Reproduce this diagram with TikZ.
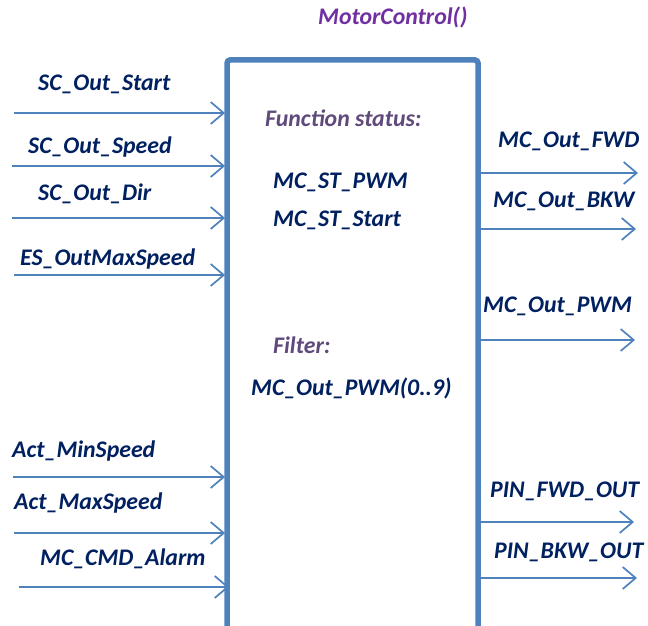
\documentclass[tikz,border=0pt]{standalone}
\usepackage{fontspec}
\setmainfont{Carlito}
\usetikzlibrary{arrows.meta}
\definecolor{boxblue}{HTML}{4F81BD}
\definecolor{navy}{HTML}{002060}
\definecolor{titlepurple}{HTML}{7030A0}
\definecolor{greypurple}{HTML}{604A7B}
\tikzset{
  lbl/.style={anchor=base west, inner sep=0pt, text=navy, font=\fontsize{23.8}{28}\selectfont\bfseries\itshape},
  hdr/.style={lbl, text=greypurple},
  sig/.style={draw=boxblue, line width=1.7pt, -{Straight Barb[length=13pt,width=22pt,line width=1.7pt]}},
  blk/.style={draw=boxblue, line width=5.5pt, rounded corners=3pt}
}
\begin{document}
\begin{tikzpicture}[x=1pt,y=-1pt]
\useasboundingbox (0,0) rectangle (648,626);
% block
\coordinate (bl) at (227,640);
\coordinate (tl) at (227,60);
\coordinate (tr) at (478,60);
\coordinate (br) at (478,640);
\draw[blk] (bl) -- (tl) -- (tr) -- (br);
% title and inner texts
\node[lbl, text=titlepurple] (title) at (318,25) {MotorControl()};
\node[hdr] (fs) at (265,126) {Function status:};
\node[lbl] (st1) at (273,188) {MC\_ST\_PWM};
\node[lbl] (st2) at (273,226) {MC\_ST\_Start};
\node[hdr] (flt) at (273,353) {Filter:};
\node[lbl] (fpwm) at (251,395) {MC\_Out\_PWM(0..9)};
% inputs
\node[lbl] (l1) at (38,91) {SC\_Out\_Start};
\node[lbl] (l2) at (28,153) {SC\_Out\_Speed};
\node[lbl] (l3) at (38,200) {SC\_Out\_Dir};
\node[lbl] (l4) at (20,265) {ES\_OutMaxSpeed};
\node[lbl] (l5) at (12,457) {Act\_MinSpeed};
\node[lbl] (l6) at (14,509) {Act\_MaxSpeed};
\node[lbl] (l7) at (40,565) {MC\_CMD\_Alarm};
\foreach \i/\xs/\ys/\xe in {1/14/113/225, 2/12/166/225, 3/12/218/225, 4/14/275/225, 5/13/477/225, 6/14/533/225, 7/19/587/229}{
  \coordinate (in\i s) at (\xs,\ys);
  \coordinate (in\i e) at (\xe,\ys);
  \draw[sig] (in\i s) -- (in\i e);
}
% outputs
\node[lbl] (r1) at (498,147) {MC\_Out\_FWD};
\node[lbl] (r2) at (493,207) {MC\_Out\_BKW};
\node[lbl] (r3) at (483,312) {MC\_Out\_PWM};
\node[lbl] (r4) at (490,497) {PIN\_FWD\_OUT};
\node[lbl] (r5) at (494,558) {PIN\_BKW\_OUT};
\foreach \i/\ys/\xe in {1/173/638, 2/229/636, 3/340/635, 4/522/634, 5/578/637}{
  \coordinate (out\i s) at (481,\ys);
  \coordinate (out\i e) at (\xe,\ys);
  \draw[sig] (out\i s) -- (out\i e);
}
\end{tikzpicture}
\end{document}
